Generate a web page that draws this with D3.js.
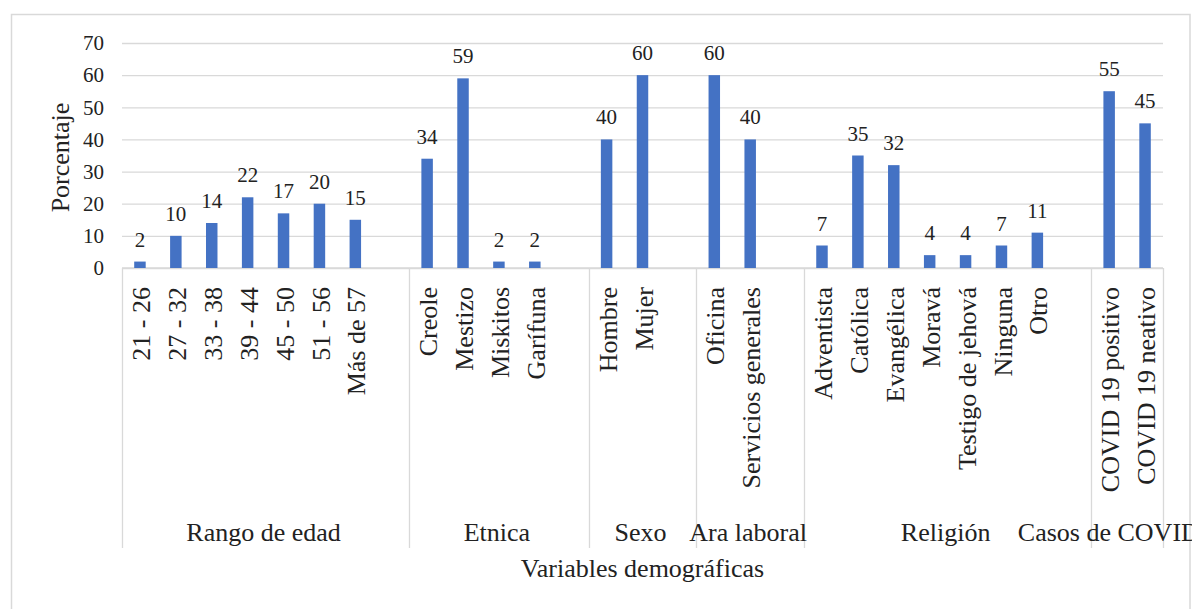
<!DOCTYPE html>
<html>
<head>
<meta charset="utf-8">
<script src="https://cdn.jsdelivr.net/npm/d3@7/dist/d3.min.js"></script>
<style>
  html, body { margin: 0; padding: 0; background: #fff; }
  svg { display: block; }
  text { font-family: "Liberation Serif", "Times New Roman", serif; fill: #222; }
</style>
</head>
<body>
<svg id="chart" width="1192" height="609"></svg>
<script>
// Demographic breakdown (percentages), grouped by variable
const groupNames = ["Rango de edad", "Etnica", "Sexo", "Ara laboral", "Religión", "Casos de COVID 19"];
const groupSizes = [7, 4, 2, 2, 7, 2];
const categories = [
  "21 - 26", "27 - 32", "33 - 38", "39 - 44", "45 - 50", "51 - 56", "Más de 57",
  "Creole", "Mestizo", "Miskitos", "Garífuna",
  "Hombre", "Mujer",
  "Oficina", "Servicios generales",
  "Adventista", "Católica", "Evangélica", "Moravá", "Testigo de jehová", "Ninguna", "Otro",
  "COVID 19 positivo", "COVID 19 neativo"
];
const values = [
  2, 10, 14, 22, 17, 20, 15,
  34, 59, 2, 2,
  40, 60,
  60, 40,
  7, 35, 32, 4, 4, 7, 11,
  55, 45
];
const yTicks = [0, 10, 20, 30, 40, 50, 60, 70];
const yTitle = "Porcentaje";
const xTitle = "Variables demográficas";

const svg = d3.select("#chart");
const W = 1192, H = 609;
const plot = { left: 122, right: 1163, top: 43, bottom: 268 };
const axisBottom = 548;
const gridColor = "#d9d9d9";
const barColor = "#4472c4";

// Outer chart frame
svg.append("rect")
  .attr("x", 11.5).attr("y", 14.5)
  .attr("width", 1178.5).attr("height", 640)
  .attr("fill", "#fff").attr("stroke", gridColor).attr("stroke-width", 1.5);

// Build slots: each group's categories followed by one empty slot (except the last group)
const slots = [];
const groupSpans = [];
let ci = 0;
groupSizes.forEach((n, g) => {
  const start = slots.length;
  for (let k = 0; k < n; k++, ci++) slots.push({ key: "c" + ci, idx: ci });
  if (g < groupSizes.length - 1) slots.push({ key: "gap" + g, idx: -1 });
  groupSpans.push({ name: groupNames[g], first: slots[start].key, last: slots[slots.length - 1].key });
});

const x = d3.scaleBand()
  .domain(slots.map(s => s.key))
  .range([plot.left, plot.right])
  .paddingInner(0).paddingOuter(0);

const y = d3.scaleLinear().domain([0, 70]).range([plot.bottom, plot.top]);

// Horizontal gridlines + y tick labels
const yAxis = d3.axisLeft(y).tickValues(yTicks).tickSize(-(plot.right - plot.left)).tickPadding(18);
const gy = svg.append("g").attr("transform", `translate(${plot.left},0)`).call(yAxis);
gy.select(".domain").remove();
gy.selectAll(".tick line").attr("stroke", gridColor).attr("stroke-width", 1.3);
gy.selectAll(".tick text")
  .attr("font-family", "Liberation Serif, serif")
  .attr("font-size", 21).attr("fill", "#222");

// Category axis: baseline and group dividers
svg.append("line")
  .attr("x1", plot.left).attr("x2", plot.right)
  .attr("y1", plot.bottom).attr("y2", plot.bottom)
  .attr("stroke", gridColor).attr("stroke-width", 1.3);

const dividerXs = [plot.left].concat(groupSpans.map(g => x(g.last) + x.bandwidth()));
svg.append("g").selectAll("line").data(dividerXs).join("line")
  .attr("x1", d => Math.round(d) + 0.5).attr("x2", d => Math.round(d) + 0.5)
  .attr("y1", plot.bottom).attr("y2", axisBottom)
  .attr("stroke", gridColor).attr("stroke-width", 1.3);

// Bars
const barData = slots.filter(s => s.idx >= 0).map(s => ({ key: s.key, label: categories[s.idx], value: values[s.idx] }));
const barW = x.bandwidth() * 0.32;

svg.append("g").selectAll("rect").data(barData).join("rect")
  .attr("x", d => x(d.key) + x.bandwidth() / 2 - barW / 2)
  .attr("y", d => y(d.value))
  .attr("width", barW)
  .attr("height", d => y(0) - y(d.value))
  .attr("fill", barColor);

// Value labels
svg.append("g").selectAll("text").data(barData).join("text")
  .attr("x", d => x(d.key) + x.bandwidth() / 2)
  .attr("y", d => y(d.value) - 15)
  .attr("text-anchor", "middle")
  .attr("font-size", 21)
  .text(d => d.value);

// Rotated category labels
svg.append("g").selectAll("text").data(barData).join("text")
  .attr("transform", d => `translate(${x(d.key) + x.bandwidth() / 2 + 1},${plot.bottom + 19}) rotate(-90)`)
  .attr("text-anchor", "end")
  .attr("dy", "0.35em")
  .attr("font-size", 26)
  .text(d => d.label);

// Group labels
svg.append("g").selectAll("text").data(groupSpans).join("text")
  .attr("x", d => (x(d.first) + x(d.last) + x.bandwidth()) / 2 - 2)
  .attr("y", 541)
  .attr("text-anchor", "middle")
  .attr("font-size", 26)
  .text(d => d.name);

// Axis titles
svg.append("text")
  .attr("x", (plot.left + plot.right) / 2)
  .attr("y", 577)
  .attr("text-anchor", "middle")
  .attr("font-size", 26)
  .text(xTitle);

svg.append("text")
  .attr("transform", `translate(69,${(plot.top + plot.bottom) / 2 + 2}) rotate(-90)`)
  .attr("text-anchor", "middle")
  .attr("font-size", 26)
  .text(yTitle);
</script>
</body>
</html>
